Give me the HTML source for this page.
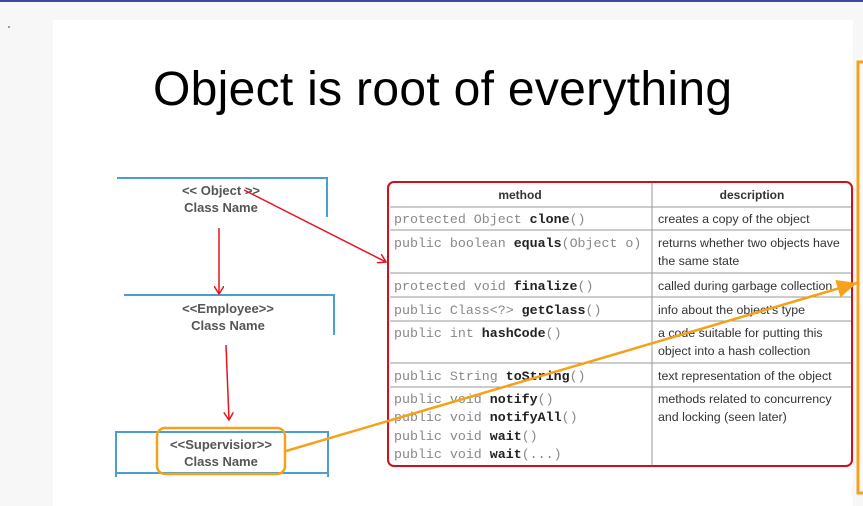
<!DOCTYPE html>
<html><head><style>
body{margin:0;width:863px;height:506px;overflow:hidden;background:#f7f7f7;position:relative;font-family:"Liberation Sans",sans-serif}
.slide{position:absolute;left:53px;top:20px;width:800px;height:486px;background:#fff}
.t{position:absolute;left:153px;top:62px;font-size:48px;letter-spacing:0.3px;color:#000;white-space:nowrap}
</style></head><body>
<div style="position:absolute;left:0;top:0;width:863px;height:2px;background:#3f48a0"></div>
<div class="slide"></div>
<div class="t">Object is root of everything</div>
<svg width="863" height="506" style="position:absolute;left:0;top:0" font-family="Liberation Sans, sans-serif">
<defs>
<marker id="r" markerWidth="10" markerHeight="10" refX="8" refY="5" orient="auto" markerUnits="userSpaceOnUse"><path d="M0,0 L8,5 L0,10" fill="none" stroke="#e8141c" stroke-width="1.5"/></marker>
<marker id="o" markerWidth="22" markerHeight="18" refX="20" refY="9" orient="auto" markerUnits="userSpaceOnUse"><path d="M0,0 L20,9 L0,18 Z" fill="#f5a21a"/></marker>
</defs>
<g fill="none" stroke="#4a9fd0" stroke-width="2">
<path d="M117,178 H327 V217"/>
<path d="M124,295 H334 V335"/>
<path d="M116,477 V432 H328 V477 M116,473 H328"/>
</g>
<g fill="#555" font-size="13" font-weight="bold" text-anchor="middle">
<text x="221" y="195">&lt;&lt;  Object   &gt;&gt;</text><text x="221" y="212">Class Name</text>
<text x="228" y="313">&lt;&lt;Employee&gt;&gt;</text><text x="228" y="330">Class Name</text>
<text x="221" y="449">&lt;&lt;Supervisior&gt;&gt;</text><text x="221" y="466">Class Name</text>
</g>
<rect x="157" y="428" width="128" height="46" rx="8" fill="none" stroke="#f5a21a" stroke-width="2.5"/>
<g stroke="#e8141c" stroke-width="1.5" fill="none">
<line x1="219" y1="228" x2="219" y2="294" marker-end="url(#r)"/>
<line x1="226" y1="345" x2="229" y2="420" marker-end="url(#r)"/>
<line x1="244" y1="190" x2="386" y2="262" marker-end="url(#r)"/>
</g>
<g stroke="#999" stroke-width="1">
<line x1="390" y1="207" x2="851" y2="207"/><line x1="390" y1="230" x2="851" y2="230"/>
<line x1="390" y1="273" x2="851" y2="273"/><line x1="390" y1="297" x2="851" y2="297"/>
<line x1="390" y1="321" x2="851" y2="321"/><line x1="390" y1="363" x2="851" y2="363"/>
<line x1="390" y1="387" x2="851" y2="387"/><line x1="652" y1="183" x2="652" y2="465"/>
</g>
<rect x="388" y="182" width="464" height="284" rx="6" fill="none" stroke="#d0101a" stroke-width="2"/>
<g font-size="12" font-weight="bold" fill="#333" text-anchor="middle"><text x="520" y="199">method</text><text x="752" y="199">description</text></g>
<g font-family="Liberation Mono, monospace" font-size="13.3" fill="#888">
<text x="394" y="223">protected Object <tspan fill="#222" font-weight="bold">clone</tspan>()</text>
<text x="394" y="247">public boolean <tspan fill="#222" font-weight="bold">equals</tspan>(Object o)</text>
<text x="394" y="290">protected void <tspan fill="#222" font-weight="bold">finalize</tspan>()</text>
<text x="394" y="314">public Class&lt;?&gt; <tspan fill="#222" font-weight="bold">getClass</tspan>()</text>
<text x="394" y="337">public int <tspan fill="#222" font-weight="bold">hashCode</tspan>()</text>
<text x="394" y="380">public String <tspan fill="#222" font-weight="bold">toString</tspan>()</text>
<text x="394" y="403">public void <tspan fill="#222" font-weight="bold">notify</tspan>()</text>
<text x="394" y="421">public void <tspan fill="#222" font-weight="bold">notifyAll</tspan>()</text>
<text x="394" y="440">public void <tspan fill="#222" font-weight="bold">wait</tspan>()</text>
<text x="394" y="458">public void <tspan fill="#222" font-weight="bold">wait</tspan>(...)</text>
</g>
<g font-size="12.4" fill="#333">
<text x="658" y="223">creates a copy of the object</text>
<text x="658" y="247">returns whether two objects have</text><text x="658" y="265">the same state</text>
<text x="658" y="290">called during garbage collection</text>
<text x="658" y="314">info about the object's type</text>
<text x="658" y="337">a code suitable for putting this</text><text x="658" y="355">object into a hash collection</text>
<text x="658" y="380">text representation of the object</text>
<text x="658" y="403">methods related to concurrency</text><text x="658" y="421">and locking  (seen later)</text>
</g>
<line x1="286" y1="451" x2="857" y2="283" stroke="#f5a21a" stroke-width="2.5" marker-end="url(#o)"/>
<path d="M863,62 H858 V493 H863" fill="none" stroke="#f5a21a" stroke-width="3"/>
<circle cx="9" cy="27" r="0.8" fill="#333"/>
</svg>
</body></html>
